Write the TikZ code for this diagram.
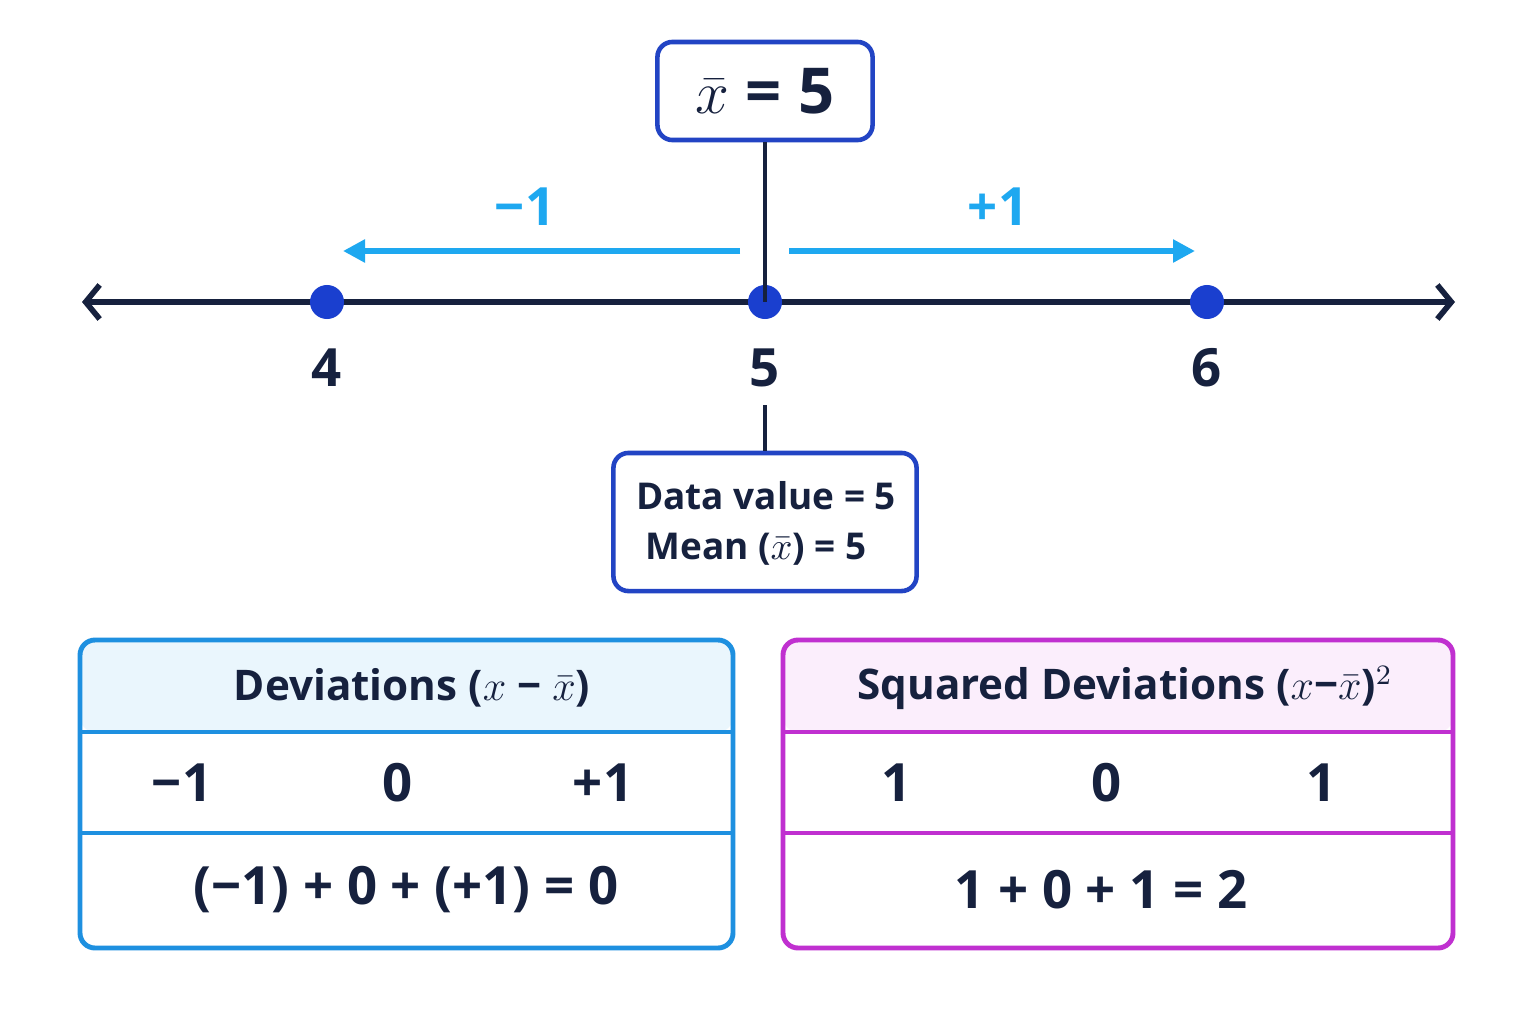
\documentclass[tikz,border=0pt]{standalone}
\usepackage{fontspec}
\setmainfont{Open Sans}
\usetikzlibrary{arrows.meta,positioning}
\definecolor{navy}{HTML}{16213E}
\definecolor{dotblue}{HTML}{1A3FCF}
\definecolor{boxblue}{HTML}{2244C4}
\definecolor{cyanarrow}{HTML}{1EA8F0}
\definecolor{devblue}{HTML}{1E90E0}
\definecolor{devfill}{HTML}{EAF6FD}
\definecolor{sqmag}{HTML}{C030D0}
\definecolor{sqfill}{HTML}{FBEEFC}
\tikzset{
	lbl/.style={text=navy,font=\fontsize{15}{17}\selectfont\bfseries},
	hdr/.style={text=navy,font=\fontsize{12}{14}\selectfont\bfseries},
	dot/.style={circle,fill=dotblue,inner sep=0pt,minimum size=0.34cm},
	infobox/.style={draw=boxblue,line width=1.3pt,rounded corners=0.15cm,fill=white}
}
\begin{document}
\begin{tikzpicture}[x=0.01cm,y=-0.01cm]
			\useasboundingbox [fill=white] (0,0) rectangle (1536,1024);
			%Number line
			\coordinate (lineL) at (82,302);
			\coordinate (lineR) at (1455,302);
			\draw [navy,line width=1.6pt,{Straight Barb[length=0.14cm,width=0.34cm]}-{Straight Barb[length=0.14cm,width=0.34cm]}] (lineL) -- (lineR);
			\foreach \v/\px in {4/327,5/765,6/1207} {
				\node [dot] (d\v) at (\px,302) {};
				\node [lbl] (n\v) at (\px,368) {\v};
			}
			%Mean box at the top
			\node [infobox,minimum width=2.15cm,minimum height=0.98cm,font=\fontsize{18}{20}\selectfont\bfseries,text=navy] (mean) at (765,91) {$\bar{x}$ = 5};
			\draw [navy,line width=1.3pt] (mean.south) -- (d5.center);
			%Deviation arrows
			\coordinate (aL0) at (740,251);
			\coordinate (aL1) at (343,251);
			\coordinate (aR0) at (789,251);
			\coordinate (aR1) at (1195,251);
			\draw [cyanarrow,line width=1.6pt,-{Triangle[length=0.22cm,width=0.22cm]}] (aL0) -- (aL1);
			\draw [cyanarrow,line width=1.6pt,-{Triangle[length=0.22cm,width=0.22cm]}] (aR0) -- (aR1);
			\node [lbl,text=cyanarrow] (mL) at (525,207) {−1};
			\node [lbl,text=cyanarrow] (mR) at (998,207) {+1};
			%Data value box
			\node [infobox,minimum width=3.03cm,minimum height=1.38cm] (data) at (765,522) {};
			\node [text=navy,font=\fontsize{10.5}{12}\selectfont\bfseries] (data1) at (766,496) {Data value = 5};
			\node [text=navy,font=\fontsize{10.5}{12}\selectfont\bfseries] (data2) at (756,549) {Mean ($\bar{x}$) = 5};
			\coordinate (tickTop) at (765,405);
			\draw [navy,line width=1.3pt] (tickTop) -- (data.north);
			%Deviations table
			\fill [devfill,rounded corners=0.15cm] (80,640) rectangle (733,732);
			\draw [devblue,line width=1.3pt] (80,732) -- (733,732);
			\draw [devblue,line width=1.3pt] (80,833) -- (733,833);
			\draw [devblue,line width=1.4pt,rounded corners=0.15cm] (80,640) rectangle (733,948);
			\node [hdr] (devH) at (412,688) {Deviations ($x$ − $\bar{x}$)};
			\node [lbl] (dev1) at (182,783) {−1};
			\node [lbl] (dev2) at (398,783) {0};
			\node [lbl] (dev3) at (603,783) {+1};
			\node [lbl] (devS) at (406,890) {(−1) + 0 + (+1) = 0};
			%Squared deviations table
			\fill [sqfill,rounded corners=0.15cm] (783,640) rectangle (1453,732);
			\draw [sqmag,line width=1.3pt] (783,732) -- (1453,732);
			\draw [sqmag,line width=1.3pt] (783,833) -- (1453,833);
			\draw [sqmag,line width=1.4pt,rounded corners=0.15cm] (783,640) rectangle (1453,948);
			\node [hdr] (sqH) at (1125,688) {Squared Deviations ($x$−$\bar{x}$)$^2$};
			\node [lbl] (sq1) at (897,783) {1};
			\node [lbl] (sq2) at (1107,783) {0};
			\node [lbl] (sq3) at (1322,783) {1};
			\node [lbl] (sqS) at (1101,890) {1 + 0 + 1 = 2};
\end{tikzpicture}
\end{document}
